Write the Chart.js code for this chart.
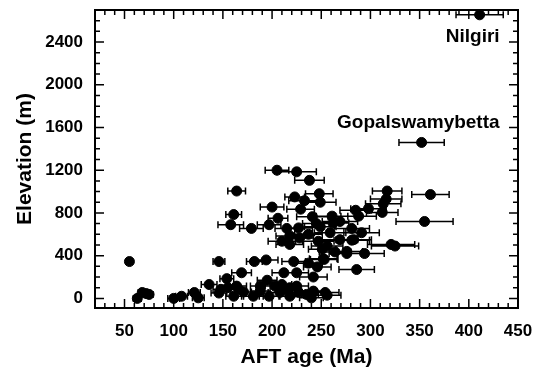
<!DOCTYPE html>
<html>
<head>
<meta charset="utf-8">
<script src="https://cdn.jsdelivr.net/npm/chart.js@4.4.1/dist/chart.umd.min.js"></script>
<style>
    html, body { margin: 0; padding: 0; background: #fff; }
    #aftChart { display: block; }
</style>
</head>
<body>
<canvas id="aftChart" width="542" height="374"></canvas>
<script>
// apatite fission track ages (Ma), sample elevations (m), age errors (Ma)
const ages = [
    55, 63, 68, 72, 75, 100, 108, 121, 125, 136,
    146, 146, 154, 155, 161, 164, 164, 161, 158, 166,
    169, 171, 179, 181, 182, 188, 194, 195, 197, 197,
    200, 203, 205, 206, 208, 210, 210, 212, 213, 215,
    218, 218, 222, 223, 225, 225, 225, 227, 227, 228,
    229, 233, 235, 237, 237, 238, 240, 241, 242, 246,
    245, 247, 248, 249, 249, 252, 253, 254, 256, 256,
    259, 261, 264, 269, 269, 276, 276, 281, 281, 283,
    285, 286, 288, 291, 294, 298, 312, 313, 316, 317,
    321, 325, 352, 355, 361, 411,
    262, 251, 218, 148, 188, 218, 242
];
const elevations = [
    345, 0, 55, 45, 37, 0, 20, 55, 5, 130,
    345, 50, 185, 100, 20, 115, 1005, 785, 690, 85,
    240, 60, 655, 20, 345, 70, 360, 170, 690, 20,
    855, 115, 1200, 750, 55, 535, 130, 240, 85, 655,
    585, 20, 345, 950, 1185, 240, 115, 660, 55, 565,
    835, 915, 37, 600, 330, 1105, 5, 765, 200, 295,
    700, 535, 980, 900, 670, 370, 365, 55, 30, 490,
    615, 770, 435, 720, 550, 440, 420, 655, 545, 550,
    825, 270, 770, 615, 420, 840, 805, 885, 930, 1005,
    505, 490, 1460, 720, 972, 2655,
    705, 460, 505, 85, 115, 100, 68
];
const ageErrors = [
    3, 4, 4, 5, 4, 6, 6, 6, 6, 8,
    6, 8, 7, 8, 8, 10, 9, 8, 13, 8,
    10, 8, 12, 10, 8, 10, 12, 10, 12, 10,
    12, 10, 12, 10, 12, 14, 10, 12, 10, 12,
    14, 10, 12, 10, 20, 12, 12, 14, 12, 14,
    14, 16, 12, 14, 14, 15, 12, 16, 14, 14,
    14, 16, 14, 16, 16, 14, 14, 14, 14, 16,
    16, 16, 16, 18, 18, 16, 18, 18, 18, 18,
    16, 18, 18, 18, 20, 18, 16, 18, 16, 15,
    24, 24, 23, 29, 19, 24,
    16, 14, 14, 8, 10, 10, 12
];

// named samples and the index of their point
const sampleNames = ['Nilgiri', 'Gopalswamybetta'];
const sampleIndex = [95, 92];

const xTickLabels = [50, 100, 150, 200, 250, 300, 350, 400, 450];
const yTickLabels = [0, 400, 800, 1200, 1600, 2000, 2400];

const FONT = "'Liberation Sans', Arial, sans-serif";

const errorBars = {
    id: 'errorBars',
    beforeDatasetsDraw(chart) {
        const { ctx, scales: { x, y } } = chart;
        ctx.save();
        ctx.strokeStyle = '#000';
        ctx.lineWidth = 1.5;
        ctx.beginPath();
        ages.forEach(function (a, i) {
            const py = y.getPixelForValue(elevations[i]);
            const x0 = x.getPixelForValue(a - ageErrors[i]);
            const x1 = x.getPixelForValue(a + ageErrors[i]);
            ctx.moveTo(x0, py); ctx.lineTo(x1, py);
            ctx.moveTo(x0, py - 3.5); ctx.lineTo(x0, py + 3.5);
            ctx.moveTo(x1, py - 3.5); ctx.lineTo(x1, py + 3.5);
        });
        ctx.stroke();
        ctx.restore();
    }
};

const frameAndTicks = {
    id: 'frameAndTicks',
    afterDraw(chart) {
        const { ctx, chartArea: a, scales: { x, y } } = chart;
        ctx.save();
        ctx.strokeStyle = '#000';
        ctx.lineWidth = 1.5;
        ctx.beginPath();
        for (let v = 20; v <= 450; v += 10) {
            const px = x.getPixelForValue(v);
            const len = v % 50 === 0 ? 9 : 5;
            ctx.moveTo(px, a.bottom); ctx.lineTo(px, a.bottom - len);
            ctx.moveTo(px, a.top); ctx.lineTo(px, a.top + len);
        }
        for (let v = 0; v <= 2700; v += 100) {
            const py = y.getPixelForValue(v);
            const len = v % 400 === 0 ? 9 : 5;
            ctx.moveTo(a.left, py); ctx.lineTo(a.left + len, py);
            ctx.moveTo(a.right, py); ctx.lineTo(a.right - len, py);
        }
        ctx.stroke();
        ctx.lineWidth = 2;
        ctx.strokeRect(a.left, a.top, a.right - a.left, a.bottom - a.top);

        // sample names
        ctx.fillStyle = '#000';
        ctx.font = 'bold 19px ' + FONT;
        ctx.textAlign = 'right';
        ctx.textBaseline = 'middle';
        const offsets = [[20, 22], [78, -20]];
        sampleIndex.forEach(function (idx, k) {
            const px = x.getPixelForValue(ages[idx]);
            const py = y.getPixelForValue(elevations[idx]);
            ctx.fillText(sampleNames[k], px + offsets[k][0], py + offsets[k][1]);
        });
        ctx.restore();
    }
};

document.addEventListener('DOMContentLoaded', function () {
    const points = ages.map(function (a, i) {
        return { x: a, y: elevations[i] };
    });

    const config = {
        type: 'scatter',
        data: {
            datasets: [{
                data: points,
                pointRadius: 5,
                pointBorderWidth: 1,
                backgroundColor: '#000',
                borderColor: '#000',
            }],
        },
        options: {
            responsive: false,
            animation: false,
            layout: { padding: { left: 0, top: 10, right: 24, bottom: 0 } },
            plugins: {
                legend: { display: false },
                tooltip: { enabled: false },
            },
            scales: {
                x: {
                    type: 'linear',
                    min: 20,
                    max: 450,
                    afterBuildTicks: function (scale) {
                        scale.ticks = xTickLabels.map(function (v) { return { value: v }; });
                    },
                    afterFit: function (scale) {
                        scale.height = 66;
                        scale.paddingLeft = 0;
                        scale.paddingRight = 0;
                    },
                    grid: { display: false, drawTicks: false },
                    border: { display: false },
                    ticks: {
                        autoSkip: false,
                        maxRotation: 0,
                        padding: 13,
                        color: '#000',
                        font: { family: FONT, size: 17, weight: 'bold' },
                        callback: function (v) { return String(v); },
                    },
                    title: {
                        display: true,
                        text: 'AFT age (Ma)',
                        color: '#000',
                        font: { family: FONT, size: 21, weight: 'bold' },
                        padding: { top: 0, bottom: 4.5 },
                    },
                },
                y: {
                    type: 'linear',
                    min: -90,
                    max: 2700,
                    afterBuildTicks: function (scale) {
                        scale.ticks = yTickLabels.map(function (v) { return { value: v }; });
                    },
                    afterFit: function (scale) {
                        scale.width = 95;
                        scale.paddingTop = 0;
                        scale.paddingBottom = 0;
                    },
                    grid: { display: false, drawTicks: false },
                    border: { display: false },
                    ticks: {
                        autoSkip: false,
                        padding: 12,
                        color: '#000',
                        font: { family: FONT, size: 17, weight: 'bold' },
                        callback: function (v) { return String(v); },
                    },
                    title: {
                        display: true,
                        text: 'Elevation (m)',
                        color: '#000',
                        font: { family: FONT, size: 21, weight: 'bold' },
                        padding: { top: 12.5, bottom: 0 },
                    },
                },
            },
        },
        plugins: [errorBars, frameAndTicks],
    };

    const ctx = document.getElementById('aftChart').getContext('2d');
    new Chart(ctx, config);
});
</script>
</body>
</html>
